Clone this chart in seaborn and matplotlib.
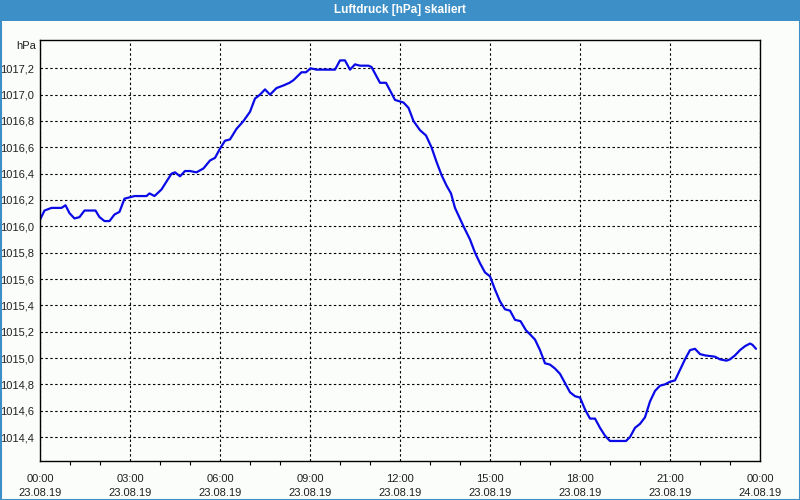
import matplotlib
matplotlib.use("Agg")
import matplotlib.pyplot as plt
from matplotlib.patches import Rectangle
from matplotlib.ticker import MultipleLocator, FuncFormatter, FixedLocator
import seaborn as sns
import pandas as pd

# ---- data ----
times = ["00:00", "00:09", "00:16", "00:23", "00:43", "00:51", "00:59", "01:09", "01:19", "01:29",
         "01:51", "01:59", "02:09", "02:19", "02:29", "02:39", "02:49", "02:59", "03:09", "03:33",
         "03:39", "03:49", "04:03", "04:13", "04:23", "04:30", "04:40", "04:50", "05:00", "05:13",
         "05:27", "05:40", "05:50", "06:00", "06:10", "06:20", "06:33", "06:47", "07:00", "07:10",
         "07:20", "07:30", "07:40", "07:53", "08:07", "08:19", "08:27", "08:43", "08:52", "09:01",
         "09:13", "09:33", "09:50", "10:00", "10:10", "10:20", "10:30", "10:40", "10:57", "11:03",
         "11:20", "11:32", "11:50", "12:07", "12:17", "12:27", "12:40", "12:52", "13:03", "13:13",
         "13:23", "13:33", "13:42", "13:50", "14:07", "14:20", "14:30", "14:40", "14:50", "15:00",
         "15:10", "15:20", "15:30", "15:40", "15:50", "16:01", "16:12", "16:20", "16:30", "16:40",
         "16:50", "17:00", "17:10", "17:20", "17:30", "17:40", "17:50", "18:00", "18:10", "18:20",
         "18:30", "18:40", "18:50", "19:00", "19:32", "19:40", "19:50", "20:00", "20:10", "20:20",
         "20:30", "20:40", "20:50", "21:00", "21:10", "21:20", "21:30", "21:40", "21:50", "22:00",
         "22:10", "22:30", "22:40", "22:53", "23:00", "23:10", "23:20", "23:30", "23:40", "23:45",
         "23:52"]
pressure = [1016.05, 1016.12, 1016.13, 1016.14, 1016.14, 1016.16, 1016.10, 1016.06, 1016.07, 1016.12,
            1016.12, 1016.07, 1016.04, 1016.04, 1016.09, 1016.11, 1016.21, 1016.22, 1016.23, 1016.23,
            1016.25, 1016.23, 1016.28, 1016.34, 1016.40, 1016.41, 1016.38, 1016.42, 1016.42, 1016.41,
            1016.44, 1016.50, 1016.52, 1016.59, 1016.65, 1016.66, 1016.74, 1016.80, 1016.87, 1016.97,
            1017.00, 1017.04, 1017.00, 1017.05, 1017.07, 1017.09, 1017.11, 1017.17, 1017.17, 1017.20,
            1017.19, 1017.19, 1017.19, 1017.26, 1017.26, 1017.19, 1017.23, 1017.22, 1017.22, 1017.21,
            1017.09, 1017.09, 1016.96, 1016.94, 1016.90, 1016.80, 1016.73, 1016.69, 1016.60, 1016.49,
            1016.39, 1016.31, 1016.25, 1016.14, 1016.00, 1015.90, 1015.80, 1015.72, 1015.65, 1015.62,
            1015.52, 1015.43, 1015.37, 1015.36, 1015.29, 1015.28, 1015.21, 1015.18, 1015.14, 1015.06,
            1014.96, 1014.95, 1014.92, 1014.88, 1014.81, 1014.74, 1014.71, 1014.70, 1014.61, 1014.54,
            1014.54, 1014.47, 1014.41, 1014.37, 1014.37, 1014.40, 1014.47, 1014.50, 1014.55, 1014.67,
            1014.75, 1014.79, 1014.80, 1014.82, 1014.83, 1014.91, 1014.99, 1015.06, 1015.07, 1015.03,
            1015.02, 1015.01, 1014.99, 1014.98, 1014.99, 1015.02, 1015.06, 1015.09, 1015.11, 1015.10,
            1015.07]
y_ticks = [1014.4, 1014.6, 1014.8, 1015.0, 1015.2, 1015.4, 1015.6, 1015.8,
           1016.0, 1016.2, 1016.4, 1016.6, 1016.8, 1017.0, 1017.2]
x_tick_labels = ["00:00\n23.08.19", "03:00\n23.08.19", "06:00\n23.08.19", "09:00\n23.08.19",
                 "12:00\n23.08.19", "15:00\n23.08.19", "18:00\n23.08.19", "21:00\n23.08.19",
                 "00:00\n24.08.19"]
title = "Luftdruck [hPa] skaliert"
unit = "hPa"

hours = [int(t[:2]) + int(t[3:]) / 60 for t in times]
df = pd.DataFrame({"hours": hours, "pressure": pressure})

# ---- style ----
sns.set_theme(style="white")
plt.rcParams["font.family"] = ["Liberation Sans", "DejaVu Sans"]

bg = "#fbfdfb"
fig = plt.figure(figsize=(8, 5), dpi=100, facecolor=bg)
ax = fig.add_axes([40 / 800, 1 - 461 / 500, 720 / 800, 421 / 500])
ax.set_facecolor(bg)

sns.lineplot(data=df, x="hours", y="pressure", ax=ax, color="#0a0ae6", linewidth=1.6)

ax.set_xlim(0, 24)
ax.set_ylim(1014.218, 1017.415)
ax.xaxis.set_minor_locator(MultipleLocator(1))
ax.set_xticks([i * 3 for i in range(9)])
ax.set_xticklabels(x_tick_labels, fontsize=8, color="#202020", linespacing=1.55)
ax.yaxis.set_major_locator(FixedLocator(y_ticks))
ax.yaxis.set_major_formatter(FuncFormatter(lambda v, p: f"{v:.1f}".replace(".", ",")))
ax.tick_params(axis="y", length=0, pad=4, labelsize=8, labelcolor="#202020")
ax.tick_params(axis="x", which="major", direction="out", length=3, width=0.8, color="black", pad=6)
ax.tick_params(axis="x", which="minor", direction="out", length=3, width=0.8, color="black", bottom=True)
ax.set_xlabel("")
ax.set_ylabel("")

ax.grid(True, which="major", color="black", linestyle=(0, (2.2, 2.2)), linewidth=0.8)
for s in ax.spines.values():
    s.set_visible(True)
    s.set_color("black")
    s.set_linewidth(1.0)

fig.text(36 / 800, 1 - 46 / 500, unit, ha="right", va="center", fontsize=8, color="#202020")

# title bar
fig.patches.append(Rectangle((0, 1 - 21 / 500), 1, 21 / 500, transform=fig.transFigure,
                             facecolor="#3d8fc7", edgecolor="none", zorder=0))
fig.text(0.5, 1 - 10.5 / 500, title, ha="center", va="center", fontsize=8.5, fontweight="bold",
         color="white")
# window border
fig.patches.append(Rectangle((0.5 / 800, 0.5 / 500), 799 / 800, 499 / 500, transform=fig.transFigure,
                             facecolor="none", edgecolor="#3d8fc7", linewidth=1.5, zorder=5))

fig.savefig("out.png", dpi=100, facecolor=bg)
